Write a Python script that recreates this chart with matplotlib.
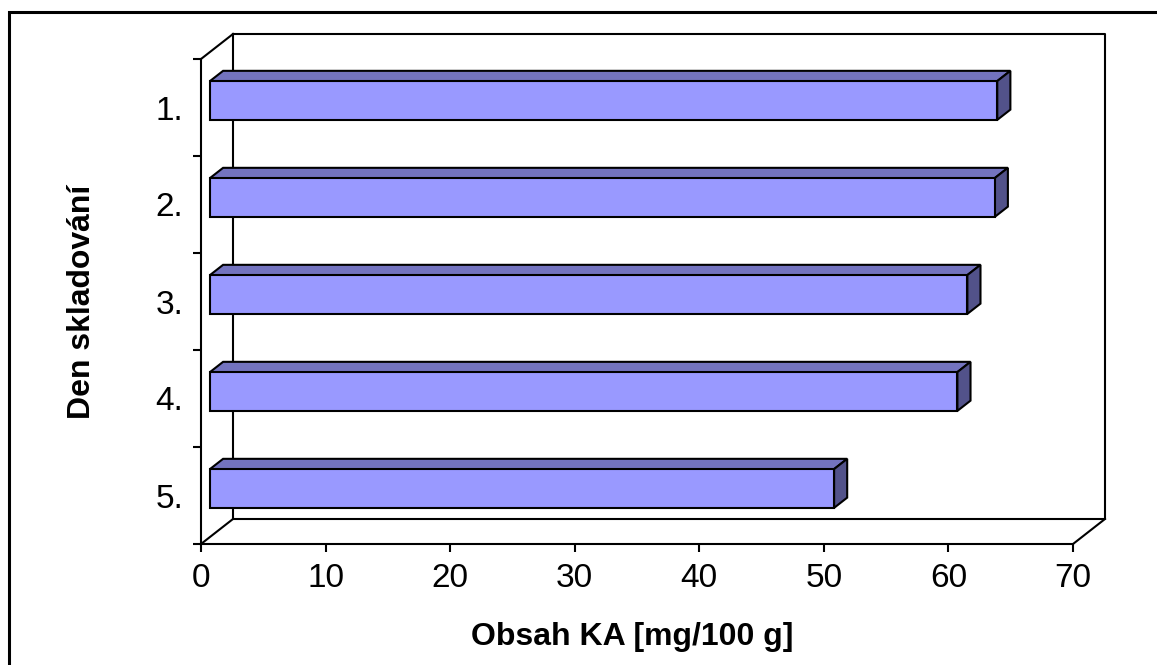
import matplotlib
matplotlib.use("Agg")
import matplotlib.pyplot as plt
from matplotlib.patches import Polygon, Rectangle

plt.rcParams['font.family'] = ['Liberation Sans', 'DejaVu Sans']

# ── Data ──
categories = ['1.', '2.', '3.', '4.', '5.']
values = [63.2, 63.0, 60.8, 60.0, 50.1]
x_ticks = [0, 10, 20, 30, 40, 50, 60, 70]

# ── 3D look (in data units) ──
DX, DY = 2.57, -0.258      # depth of the walls/floor
F0, F1 = 0.28, 0.69        # bar depth, front and back
BAR_H = 0.4
FRONT = '#9999FF'
TOP = '#7373BF'
SIDE = '#52528A'
LW = 1.5

W, H = 1157, 665
fig = plt.figure(figsize=(W / 100, H / 100), dpi=100)
ax = fig.add_axes([201 / W, (H - 544) / H, 872 / W, 485 / H])
ax.set_xlim(0, 70)
ax.set_ylim(len(categories) - 0.5, -0.5)
ax.set_facecolor('none')

# walls and floor
x0, x1 = 0, 70
y0, y1 = -0.5, len(categories) - 0.5
wall = dict(color='black', lw=LW, clip_on=False, zorder=1, solid_capstyle='projecting')
ax.plot([x0 + DX, x1 + DX, x1 + DX, x0 + DX, x0 + DX],
        [y0 + DY, y0 + DY, y1 + DY, y1 + DY, y0 + DY], **wall)
ax.plot([x0, x0 + DX], [y0, y0 + DY], **wall)
ax.plot([x0, x0 + DX], [y1, y1 + DY], **wall)
ax.plot([x1, x1 + DX], [y1, y1 + DY], **wall)

# bars
pos = list(range(len(categories)))
ax.barh([p + F0 * DY for p in pos], values, left=F0 * DX, height=BAR_H,
        color=FRONT, edgecolor='black', linewidth=LW, zorder=3)
ddx, ddy = (F1 - F0) * DX, (F1 - F0) * DY
for p, v in zip(pos, values):
    l = F0 * DX
    r = v + F0 * DX
    t = p + F0 * DY - BAR_H / 2
    b = p + F0 * DY + BAR_H / 2
    ax.add_patch(Polygon([(l, t), (r, t), (r + ddx, t + ddy), (l + ddx, t + ddy)],
                         closed=True, facecolor=TOP, edgecolor='black', lw=LW,
                         zorder=2, clip_on=False, joinstyle='miter'))
    ax.add_patch(Polygon([(r, t), (r + ddx, t + ddy), (r + ddx, b + ddy), (r, b)],
                         closed=True, facecolor=SIDE, edgecolor='black', lw=LW,
                         zorder=2, clip_on=False, joinstyle='miter'))

# axes / ticks
for s in ['top', 'right']:
    ax.spines[s].set_visible(False)
for s in ['left', 'bottom']:
    ax.spines[s].set_linewidth(LW)
    ax.spines[s].set_zorder(4)

ax.set_xticks(x_ticks)
ax.set_xticklabels([str(t) for t in x_ticks])
ax.tick_params(axis='x', direction='out', length=6, width=LW, pad=8, labelsize=24)

ax.set_yticks(pos)
ax.set_yticklabels(categories)
ax.set_yticks([p - 0.5 for p in pos] + [pos[-1] + 0.5], minor=True)
ax.tick_params(axis='y', which='major', length=0, pad=13, labelsize=24)
ax.tick_params(axis='y', which='minor', direction='out', length=6, width=LW)

ax.set_xlabel('Obsah KA [mg/100 g]', fontsize=23, fontweight='bold', va='center')
ax.xaxis.set_label_coords(0.495, -0.192)
ax.set_ylabel('Den skladování', fontsize=23, fontweight='bold', va='center')
ax.yaxis.set_label_coords(-0.1365, 0.5)

# chart area border (runs past the right/bottom edge)
fig.patches.append(Rectangle((9 / W, -0.1), 1.2, 1 - 12 / H + 0.1,
                             transform=fig.transFigure, fill=False,
                             edgecolor='black', lw=2.2))

fig.savefig('out.png', dpi=100)
